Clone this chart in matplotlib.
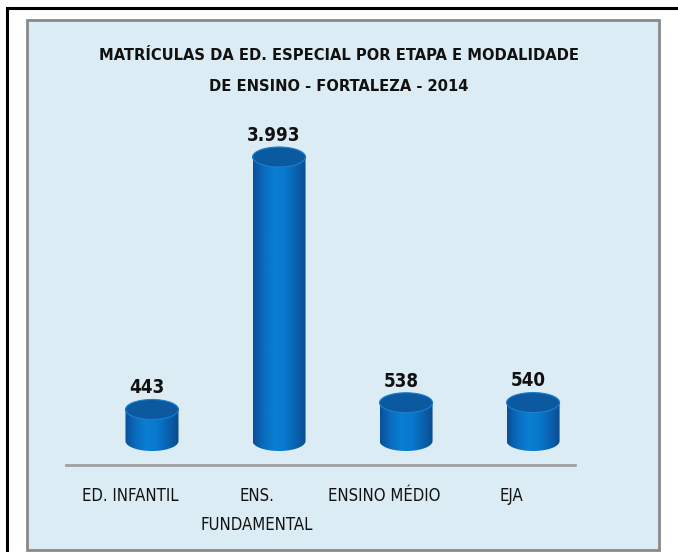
import numpy as np
import matplotlib.pyplot as plt
from matplotlib.patches import Rectangle, Ellipse, PathPatch
from matplotlib.path import Path
from matplotlib.colors import LinearSegmentedColormap

# Data
categories = ['ED. INFANTIL', 'ENS.\nFUNDAMENTAL', 'ENSINO MÉDIO', 'EJA']
values = [443, 3993, 538, 540]
value_labels = ['443', '3.993', '538', '540']
title = 'MATRÍCULAS DA ED. ESPECIAL POR ETAPA E MODALIDADE\nDE ENSINO - FORTALEZA - 2014'

plt.rcParams['font.family'] = ['DejaVu Sans']
plt.rcParams['font.stretch'] = 'condensed'

W, H = 678, 552
fig = plt.figure(figsize=(W / 100, H / 100), dpi=100)
fig.patch.set_facecolor('white')

# outer black frame and light blue panel
fig.add_artist(Rectangle((7 / W, -0.1), 1.2, 1 - 8 / H + 0.1, transform=fig.transFigure,
                         fill=False, edgecolor='black', linewidth=2.2, zorder=-2))
fig.add_artist(Rectangle((27 / W, 1 - 550 / H), (659 - 27) / W, (550 - 20) / H,
                         transform=fig.transFigure, facecolor='#dbecf4',
                         edgecolor='#8a8a8a', linewidth=2, zorder=-1))

fig.text(339 / W, 1 - 71 / H, title, ha='center', va='center', fontsize=11.8,
         fontweight='bold', color='#111111', linespacing=2.4)

# axes geometry (pixels)
ax_l, ax_r, ax_b, ax_t = 66, 575, 465, 100
x_px_per_unit = 127.0
base_px = 441
y_px_per_unit = 284.0 / 3993
ax = fig.add_axes([ax_l / W, 1 - ax_b / H, (ax_r - ax_l) / W, (ax_b - ax_t) / H])
ax.set_zorder(1)
ax.set_facecolor('none')
ax.set_xlim(-0.677, 3.33)
ax.set_ylim(-(ax_b - base_px) / y_px_per_unit, (base_px - ax_t) / y_px_per_unit)
for s in ['top', 'right', 'left']:
    ax.spines[s].set_visible(False)
ax.spines['bottom'].set_color('#a0a0a0')
ax.spines['bottom'].set_linewidth(2)
ax.set_yticks([])

pos = np.arange(len(categories))
bw = 53 / x_px_per_unit
eh = 20 / y_px_per_unit  # ellipse height in data units

body_cmap = LinearSegmentedColormap.from_list(
    'body', ['#0b4f96', '#0a6cc0', '#0a7fd2', '#0878cc', '#0a62b0', '#0a4a8c'])
grad = np.linspace(0, 1, 256).reshape(1, -1)

for x, v, lab in zip(pos, values, value_labels):
    x0, x1 = x - bw / 2, x + bw / 2
    # body outline: rectangle plus lower half ellipse
    t = np.linspace(np.pi, 2 * np.pi, 40)
    bottom = np.column_stack([x + bw / 2 * np.cos(t), eh / 2 * np.sin(t)])
    verts = np.vstack([[x0, v], bottom, [x1, v], [x0, v]])
    path = Path(verts, closed=True)
    clip = PathPatch(path, facecolor='none', edgecolor='none')
    ax.add_patch(clip)
    im = ax.imshow(grad, cmap=body_cmap, aspect='auto', extent=[x0, x1, -eh, v + eh],
                   zorder=2)
    im.set_clip_path(clip)
    # top ellipse
    top = Ellipse((x, v), bw, eh, facecolor='#0b5aa0', edgecolor='#1a7fd0',
                  linewidth=0.8, zorder=3)
    ax.add_patch(top)
    ax.text(x - 0.04, v + eh / 2 + 30, lab, ha='center', va='bottom', fontsize=13.5,
            fontweight='bold', color='#111111', zorder=4)

ax.set_xticks(pos - 0.173)
ax.set_xticklabels(categories, fontsize=12, color='#111111', linespacing=1.75,
                   va='top')
ax.tick_params(axis='x', length=0, pad=16)

fig.savefig('out.png', dpi=100, facecolor=fig.get_facecolor())
